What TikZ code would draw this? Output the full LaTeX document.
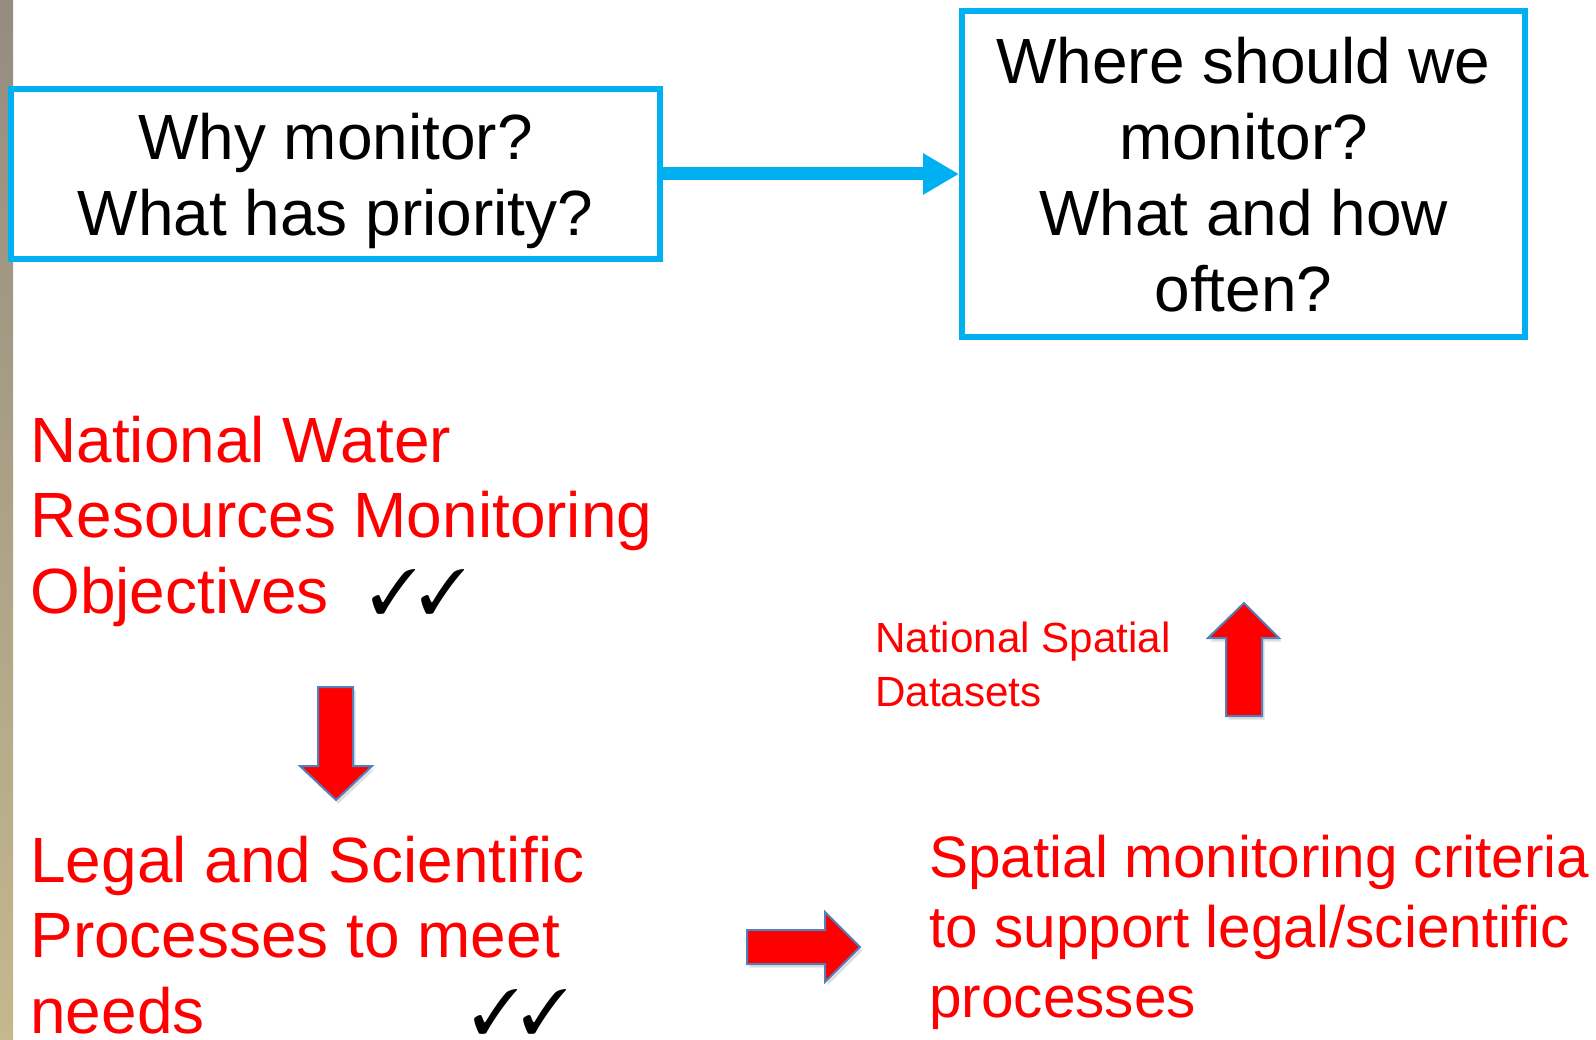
\documentclass[tikz,border=0pt]{standalone}
\usepackage{fontspec}
\setmainfont{Liberation Sans}
\usepackage{pifont}
\usetikzlibrary{arrows.meta,shadows}

\definecolor{boxblue}{HTML}{00B0F0}
\definecolor{textred}{HTML}{FF0000}
\definecolor{arrowedge}{HTML}{4F81BD}
\definecolor{stripgrey}{HTML}{948C80}
\definecolor{stripsand}{HTML}{C4B88E}

\tikzset{
  question/.style={draw=boxblue, line width=0.12cm, align=center, inner sep=0pt, text depth=0pt,
    font=\fontsize{36.4}{43.3}\selectfont},
  heading/.style={text=textred, align=left, anchor=base west, inner sep=0pt,
    font=\fontsize{36.4}{42.7}\selectfont},
  criteria/.style={text=textred, align=left, anchor=base west, inner sep=0pt,
    font=\fontsize{33.3}{39.8}\selectfont},
  datasets/.style={text=textred, align=left, anchor=base west, inner sep=0pt,
    font=\fontsize{24}{30.2}\selectfont},
  ticks/.style={anchor=base west, inner sep=0pt, font=\fontsize{35.5}{40}\selectfont},
  link/.style={draw=boxblue, line width=0.26cm, -{Triangle[length=0.72cm, width=0.78cm]}},
  blockarrow/.style={fill=textred, draw=arrowedge, line width=0.04cm, line join=miter,
    drop shadow={opacity=0.25, shadow xshift=0.05cm, shadow yshift=-0.07cm}}
}

\begin{document}
\begin{tikzpicture}[x=0.02cm, y=-0.02cm]
  \useasboundingbox (0,0) rectangle (1596,1040);
  \clip (0,0) rectangle (1596,1040);
  % edge of the slide background
  \shade[top color=stripgrey, bottom color=stripsand] (0,0) rectangle (13,1040);

  \node[question, minimum width=12.98cm, minimum height=3.4cm] (why) at (335.5,174) {Why monitor?\\What has priority?};
  \node[question, minimum width=11.26cm, minimum height=6.52cm] (where) at (1243.5,174) {Where should we\\monitor?\\What and how\\often?};
  \draw[link] (why) -- (where);

  % anchors sit on the last line
  \node[heading] (objectives) at (30,613) {National Water\\Resources Monitoring\\Objectives};
  \node[ticks] (objticks) at (370,613) {\ding{51}\hspace{0.04em}\ding{51}};
  \node[heading] (processes) at (30,1033) {Legal and Scientific\\Processes to meet\\needs};
  \node[ticks] (procticks) at (472,1033) {\ding{51}\hspace{0.04em}\ding{51}};
  \node[datasets] (datasets) at (875,706) {National Spatial\\Datasets};
  \node[criteria] (criteria) at (929,1017) {Spatial monitoring criteria\\to support legal/scientific\\processes};

  % block arrows
  \draw[blockarrow] (318,687) -- (353,687) -- (353,766) -- (372,766) -- (336,800) -- (300,766) -- (318,766) -- cycle;
  \draw[blockarrow] (1226,716) -- (1226,638) -- (1208,638) -- (1244,603) -- (1279,638) -- (1262,638) -- (1262,716) -- cycle;
  \draw[blockarrow] (747,930) -- (825,930) -- (825,912) -- (860,947) -- (825,982) -- (825,964) -- (747,964) -- cycle;
\end{tikzpicture}
\end{document}
